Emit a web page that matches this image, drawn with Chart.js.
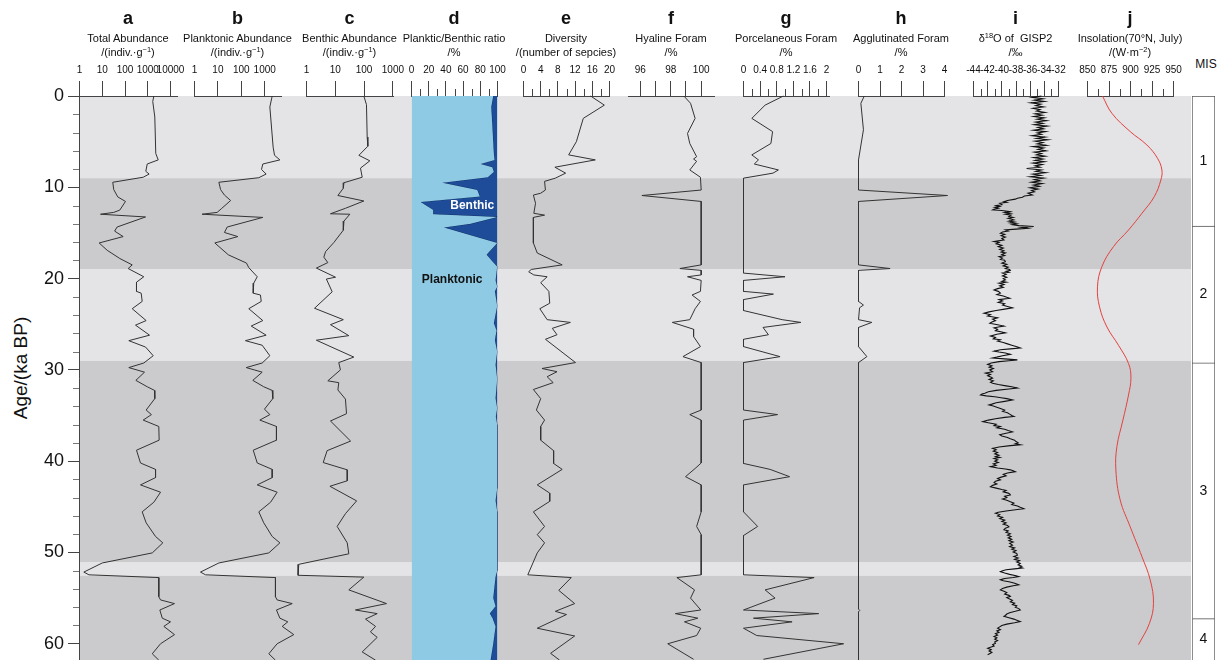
<!DOCTYPE html>
<html>
<head>
<meta charset="utf-8">
<title>Foraminifera record, 0–62 ka BP</title>
<script src="https://cdn.jsdelivr.net/npm/chart.js@4.4.1/dist/chart.umd.min.js"></script>
<style>
  html, body { margin: 0; padding: 0; background: #fff; }
  #wrap { position: relative; width: 1218px; height: 660px; overflow: hidden;
          font-family: "Liberation Sans", Arial, Helvetica, sans-serif; color: #111; }
  #wrap canvas { position: absolute; top: 0; }
  .hd { position: absolute; transform: translateX(-50%); white-space: nowrap; text-align: center; line-height: 1; }
  .letter { top: 9px; font-size: 18px; font-weight: bold; }
  .t1 { top: 33px; font-size: 11px; }
  .t2 { top: 47px; font-size: 11px; }
  .hd sup { font-size: 0.68em; line-height: 0; vertical-align: 0.55em; }
  #ageTitle { position: absolute; left: 21px; top: 368px; font-size: 19px; white-space: nowrap;
              transform: translate(-50%, -50%) rotate(-90deg); }
  #misTitle { position: absolute; left: 1206px; top: 57px; font-size: 12px; transform: translateX(-50%); }
</style>
</head>
<body>
<div id="wrap">
  <div id="ageTitle">Age/(ka BP)</div>
  <div id="misTitle">MIS</div>
</div>
<script>
// ---------------- data: [age (ka BP), value] ----------------
const ageTicks = [0, 10, 20, 30, 40, 50, 60];
const ageMinorTicks = [2,4,6,8,12,14,16,18,22,24,26,28,32,34,36,38,42,44,46,48,52,54,56,58];
const bandEdges = [0, 9.0, 18.95, 29.0, 51.1, 52.55, 62];
const misEdges = [0, 14.24, 29.24, 57.25, 62];
const misStages = ['1', '2', '3', '4'];

const totalAbundance = [[0,1850],[0.6,1660],[2.3,2040],[6.3,2250],[7.0,2880],[7.45,950],[8.25,820],[8.55,1150],[8.9,630],[9.45,29],[10.25,32],[11.05,48],[11.55,105],[12.5,59],[12.75,32],[12.95,8.4],[13.25,800],[14.35,45],[14.8,35],[15.4,83],[16.1,7.3],[16.9,16.5],[17.8,59],[18.5,207],[18.9,138],[19.8,670],[20.4,320],[21.4,320],[21.6,515],[22.5,570],[23.3,207],[24.6,850],[25.1,290],[26.2,1200],[26.8,147],[27.5,800],[28.45,1740],[29.25,670],[29.75,147],[30.25,720],[31.15,300],[31.85,950],[32.25,1990],[33.15,2040],[34.4,850],[34.9,1450],[35.5,630],[36.2,3060],[37.7,3170],[38.8,320],[40.2,480],[40.9,2200],[41.8,2200],[42.6,480],[43.4,3650],[44.5,1850],[45.55,570],[46.75,850],[48.25,2200],[48.95,4600],[50.05,1580],[51.15,10],[52.15,1.55],[52.45,2.6],[52.75,3060],[54.85,3060],[55.2,3650],[55.6,15000],[56.3,3400],[57.2,4350],[57.6,10000],[58.1,5100],[59.0,15000],[60.0,3650],[61.1,1580],[61.8,3060]];

const planktonicAbundance = [[0,2090],[1.2,1660],[5.6,2290],[6.5,2630],[7.0,4450],[7.45,830],[8.05,730],[8.55,1150],[8.95,560],[9.45,11],[10.25,13],[10.85,19],[11.45,35],[12.35,14],[12.75,9.3],[12.95,2.1],[13.3,830],[14.35,25],[14.95,19],[15.4,71],[16.1,7.4],[17.4,28],[18.3,166],[18.8,209],[19.8,480],[20.5,340],[21.6,323],[21.8,660],[22.5,710],[23.3,209],[24.6,830],[25.2,265],[26.2,1150],[26.8,150],[27.3,780],[28.45,1660],[29.25,780],[29.75,162],[30.25,780],[31.15,310],[31.85,910],[32.25,2090],[33.15,2220],[34.3,980],[34.9,1660],[35.5,620],[36.2,3180],[37.7,3180],[38.8,323],[40.2,480],[40.9,2090],[41.8,2090],[42.6,480],[43.4,3400],[44.5,1780],[45.55,560],[46.75,910],[48.25,2090],[48.95,4450],[50.05,1500],[51.15,11],[52.15,1.8],[52.45,2.95],[52.75,2880],[54.85,2880],[55.2,3400],[55.6,15000],[56.3,3180],[57.2,4450],[57.6,9700],[58.1,5600],[59.0,17500],[60.0,3400],[61.1,1500],[61.8,2880]];

const benthicAbundance = [[0,98],[0.95,121],[4.5,128],[5.5,135],[6.5,66],[7.1,158],[7.9,75],[8.9,86],[9.5,20],[10.1,19],[10.9,12.3],[11.5,98],[12.3,22.5],[12.9,6.8],[12.95,32],[13.7,20],[14.7,19],[16.05,8.9],[17.05,4.6],[17.65,4.0],[18.25,5.5],[18.85,2.2],[19.85,10.2],[20.05,4.9],[21.45,7.8],[23.25,1.9],[24.5,19],[25.05,6.8],[26.25,29.5],[26.75,2.2],[28.6,44],[29.2,13.2],[30.0,15.1],[31.2,5.5],[31.4,13.2],[32.2,12.3],[33.2,22.5],[34.8,24.5],[35.6,6.8],[37.8,34],[38.85,5.2],[40.15,3.8],[40.95,26],[42.15,26],[42.75,6.5],[44.35,55],[45.75,22.5],[47.15,11.6],[48.95,26],[50.15,29.5],[51.3,0.54],[52.5,0.51],[52.7,98],[54.1,29.5],[55.6,600],[56.3,50],[56.7,285],[57.3,112],[58.1,250],[58.7,166],[59.3,285],[60.9,86],[61.8,250]];

const plankticRatio = [[0,95.0],[1.2,92.7],[3.0,93.8],[6.3,95.7],[7.0,96.5],[7.45,80.2],[7.8,93.8],[8.3,95.7],[8.9,88.7],[9.5,35.7],[10.3,76.4],[11.0,79.4],[11.6,10.5],[12.5,25.2],[12.95,25.2],[13.25,99.6],[14.0,68.6],[14.4,37.6],[16.1,99.6],[17.4,87.2],[18.7,99.6],[20.2,97.7],[20.9,99.6],[21.4,96.9],[23.0,99.6],[24.9,95.7],[25.7,98.8],[26.75,96.9],[28.0,99.6],[29.45,97.7],[31.0,99.6],[33.1,97.7],[34.2,99.6],[35.1,98.0],[36.0,99.6],[43.0,99.6],[44.3,97.7],[45.5,99.6],[52.0,99.6],[52.65,97.7],[55.0,95.0],[55.9,97.7],[56.7,91.0],[57.2,94.2],[58.1,97.7],[60.0,95.0],[61.8,91.9]];

const diversity = [[0,15.6],[1.0,18.8],[2.45,13.9],[5.0,12.3],[6.45,10.5],[7.0,16.7],[7.8,7.3],[8.45,9.8],[9.0,7.4],[9.35,4.9],[10.3,5.1],[10.65,4.0],[10.85,2.3],[11.75,2.8],[12.85,2.4],[13.05,4.9],[13.3,2.3],[16.1,2.3],[17.2,3.2],[18.5,9.0],[19.0,1.8],[19.25,1.2],[19.6,2.4],[19.8,5.5],[20.45,4.0],[21.4,5.9],[22.7,6.1],[23.3,3.8],[24.5,5.5],[24.8,10.9],[25.45,6.7],[26.15,7.8],[26.65,5.1],[29.2,12.1],[29.85,4.3],[30.2,7.8],[30.75,5.5],[31.4,6.9],[32.15,2.3],[33.15,4.0],[34.4,3.0],[35.5,4.9],[36.2,4.0],[37.7,4.0],[38.85,7.0],[40.25,7.0],[40.9,9.0],[42.6,3.2],[43.5,6.1],[44.4,6.1],[45.55,2.3],[47.15,4.9],[48.05,3.2],[48.95,4.9],[50.05,3.2],[52.45,1.0],[52.75,11.1],[54.15,8.2],[55.6,11.9],[56.45,7.4],[56.8,10.0],[58.3,3.2],[59.15,11.9],[61.05,6.3],[61.8,8.4]];

const hyaline = [[0,98.86],[0.8,99.3],[2.45,99.6],[4.1,99.1],[5.2,99.25],[6.65,99.7],[6.9,99.5],[7.15,99.7],[8.1,99.25],[8.9,99.95],[10.3,100],[10.9,96.1],[11.55,100],[18.5,100],[18.9,98.6],[19.1,100],[19.6,100],[19.8,99.1],[20.2,100],[21.4,99.95],[21.8,99.4],[22.5,99.95],[23.3,99.6],[24.5,99.25],[24.8,98.1],[25.55,99.5],[26.35,99.5],[27.45,99.95],[28.55,98.8],[29.2,100],[34.4,100],[34.9,99.25],[35.5,100],[40.2,100],[40.8,99.6],[41.7,98.97],[42.6,100],[45.55,100],[47.15,99.7],[48.05,100],[52.45,100],[52.75,98.4],[54.1,99.56],[55.0,99.3],[56.3,99.97],[56.7,98.3],[57.2,99.78],[57.6,98.9],[58.3,99.97],[59.1,99.7],[60.0,97.8],[61.7,99.5]];

const porcelaneous = [[0,0.96],[1.0,0.52],[2.45,0.2],[3.9,0.7],[5.2,0.66],[6.45,0.2],[7.0,0.36],[7.45,0.26],[8.1,0.84],[8.45,0.71],[9.0,0],[19.4,0],[19.8,1.0],[20.2,0],[21.4,0],[21.7,0.72],[22.3,0],[23.5,0],[24.5,0.93],[24.8,1.38],[25.35,0.47],[26.15,0.6],[26.65,0],[27.45,0],[28.55,0.88],[29.2,0],[34.4,0],[34.9,0.82],[35.5,0],[40.25,0],[40.9,0.64],[41.7,1.11],[42.6,0],[45.55,0],[47.15,0.34],[48.15,0],[52.45,0],[52.75,1.7],[54.1,0.52],[55.0,0.76],[56.3,0],[56.7,1.81],[57.2,0.24],[57.6,1.17],[58.3,0],[59.1,0.32],[60.0,2.41],[61.7,0.48]];

const agglutinated = [[0,0.27],[0.8,0.11],[3.7,0.23],[7.0,0],[10.3,0],[10.9,4.14],[11.55,0],[18.5,0],[18.9,1.47],[19.1,0],[22.5,0],[22.9,0.23],[23.2,0.05],[24.5,0],[24.8,0.62],[25.35,0],[27.45,0],[28.55,0.39],[29.2,0],[56.2,0],[56.35,0.06],[56.5,0],[61.8,0]];

const gisp2 = [
[0,-34.4],[0.15,-35.7],[0.3,-34.2],[0.45,-35.4],[0.6,-34.0],[0.75,-35.9],[0.9,-34.5],[1.05,-35.2],[1.2,-34.1],[1.35,-35.6],
[1.5,-34.6],[1.65,-35.1],[1.8,-33.9],[1.95,-35.3],[2.1,-34.3],[2.25,-35.5],[2.4,-34.0],[2.55,-35.0],[2.7,-33.7],[2.85,-35.2],
[3.0,-34.2],[3.15,-35.4],[3.3,-33.6],[3.45,-34.9],[3.6,-34.1],[3.75,-35.5],[3.9,-33.8],[4.05,-35.0],[4.2,-34.4],[4.35,-35.7],
[4.5,-33.9],[4.65,-35.1],[4.8,-33.5],[4.95,-35.3],[5.1,-34.2],[5.25,-35.0],[5.4,-33.7],[5.55,-35.6],[5.7,-34.1],[5.85,-34.9],
[6.0,-33.8],[6.15,-35.4],[6.3,-34.4],[6.45,-35.1],[6.6,-33.9],[6.75,-35.5],[6.9,-34.2],[7.05,-35.3],[7.2,-34.0],[7.35,-35.6],
[7.5,-34.3],[7.65,-35.3],[7.8,-34.6],[7.95,-36.5],[8.1,-34.4],[8.25,-35.2],[8.4,-33.8],[8.55,-35.6],[8.7,-34.5],[8.85,-36.0],
[9.0,-34.1],[9.15,-35.4],[9.3,-34.6],[9.45,-35.8],[9.6,-34.3],[9.75,-35.5],[9.9,-34.7],[10.05,-36.0],[10.2,-34.9],[10.35,-35.8],
[10.5,-35.4],[10.65,-36.3],[10.84,-35.7],[10.95,-36.8],[11.1,-37.1],[11.2,-37.8],[11.3,-38.1],[11.45,-39.2],[11.57,-39.7],[11.65,-39.3],
[11.75,-40.3],[11.9,-40.0],[12.0,-40.8],[12.1,-40.3],[12.2,-41.0],[12.3,-40.5],[12.4,-41.1],[12.48,-41.3],[12.55,-40.0],[12.66,-38.9],
[12.75,-39.6],[12.85,-38.8],[12.95,-39.5],[13.05,-38.7],[13.2,-39.0],[13.3,-38.4],[13.4,-39.1],[13.5,-38.6],[13.58,-38.3],[13.7,-39.0],
[13.8,-38.2],[13.9,-38.8],[14.0,-37.9],[14.1,-38.5],[14.2,-37.6],[14.3,-35.5],[14.4,-37.2],[14.49,-36.4],[14.58,-38.0],[14.67,-39.5],
[14.8,-39.1],[14.9,-39.9],[15.04,-40.2],[15.15,-39.6],[15.3,-40.1],[15.45,-39.5],[15.6,-40.0],[15.77,-39.7],[15.87,-40.5],[15.95,-41.1],
[16.05,-40.4],[16.2,-40.8],[16.35,-40.0],[16.5,-40.5],[16.65,-39.8],[16.8,-40.3],[16.95,-39.7],[17.1,-40.1],[17.2,-39.5],[17.35,-40.0],
[17.47,-39.6],[17.6,-40.4],[17.75,-39.9],[17.9,-40.2],[18.0,-39.6],[18.15,-39.5],[18.3,-40.0],[18.45,-39.3],[18.6,-39.8],[18.75,-39.1],
[18.9,-39.5],[19.0,-38.9],[19.1,-38.8],[19.2,-39.4],[19.3,-39.0],[19.4,-39.9],[19.55,-39.4],[19.7,-39.9],[19.85,-39.3],[20.0,-39.8],
[20.15,-39.5],[20.3,-40.0],[20.4,-39.4],[20.5,-40.4],[20.65,-39.7],[20.8,-40.3],[20.95,-39.8],[21.1,-40.6],[21.25,-41.1],[21.4,-40.5],
[21.6,-40.2],[21.75,-40.7],[21.9,-39.8],[22.05,-39.3],[22.15,-38.9],[22.3,-40.4],[22.45,-39.9],[22.6,-40.5],[22.75,-39.6],[22.9,-39.9],
[23.05,-39.2],[23.2,-38.5],[23.35,-39.6],[23.5,-40.8],[23.65,-41.8],[23.8,-42.5],[23.95,-41.6],[24.1,-42.0],[24.2,-41.2],[24.3,-40.6],
[24.45,-41.3],[24.6,-40.9],[24.75,-41.4],[24.9,-41.7],[25.05,-40.6],[25.2,-39.7],[25.3,-40.5],[25.4,-41.1],[25.55,-40.6],[25.7,-40.9],
[25.85,-40.0],[25.95,-39.5],[26.1,-40.7],[26.3,-41.6],[26.45,-40.9],[26.6,-41.2],[26.7,-40.2],[26.85,-40.6],[27.0,-39.8],[27.15,-39.2],
[27.3,-38.6],[27.45,-38.0],[27.6,-37.4],[27.7,-38.8],[27.8,-40.2],[27.95,-41.1],[28.05,-40.4],[28.15,-39.5],[28.3,-38.8],[28.45,-39.9],
[28.6,-40.7],[28.7,-41.3],[28.8,-39.6],[28.9,-37.8],[29.0,-39.0],[29.1,-40.4],[29.25,-41.5],[29.4,-42.0],[29.55,-41.4],[29.7,-41.8],
[29.85,-41.2],[30.0,-41.7],[30.2,-41.3],[30.35,-42.3],[30.5,-41.6],[30.65,-42.0],[30.8,-41.5],[30.9,-41.3],[31.05,-41.8],[31.2,-41.2],
[31.35,-41.6],[31.47,-41.3],[31.6,-40.5],[31.75,-39.4],[31.85,-38.6],[32.0,-37.8],[32.1,-39.0],[32.25,-40.8],[32.4,-41.9],[32.55,-42.4],
[32.65,-42.8],[32.75,-43.0],[32.85,-42.2],[32.95,-41.0],[33.05,-40.1],[33.15,-39.3],[33.3,-38.5],[33.45,-39.6],[33.6,-40.8],[33.75,-41.4],
[33.84,-41.8],[33.95,-41.2],[34.1,-40.7],[34.25,-40.1],[34.4,-39.6],[34.55,-39.9],[34.7,-39.2],[34.85,-38.9],[35.0,-38.6],[35.1,-38.3],
[35.2,-39.6],[35.35,-40.9],[35.5,-41.9],[35.6,-42.4],[35.67,-42.7],[35.8,-41.9],[35.95,-40.8],[36.1,-41.1],[36.2,-40.2],[36.35,-40.7],
[36.5,-39.6],[36.65,-39.1],[36.8,-38.5],[36.95,-39.4],[37.1,-40.3],[37.25,-40.0],[37.4,-39.2],[37.55,-38.8],[37.7,-38.2],[37.85,-38.0],
[38.0,-37.7],[38.1,-38.1],[38.2,-37.4],[38.3,-38.8],[38.45,-40.4],[38.6,-41.3],[38.75,-40.8],[38.9,-41.2],[39.05,-40.6],[39.2,-41.0],
[39.35,-40.4],[39.5,-40.9],[39.6,-40.3],[39.7,-41.1],[39.85,-40.6],[40.0,-41.0],[40.15,-40.5],[40.3,-41.2],[40.45,-40.8],[40.6,-41.6],
[40.75,-40.6],[40.85,-39.5],[40.95,-38.8],[41.05,-38.4],[41.15,-38.1],[41.3,-39.2],[41.45,-39.8],[41.6,-39.4],[41.75,-40.1],[41.9,-40.6],
[42.05,-40.2],[42.2,-40.9],[42.35,-41.1],[42.5,-40.7],[42.65,-41.3],[42.8,-41.6],[42.95,-40.8],[43.1,-40.0],[43.2,-39.4],[43.35,-39.8],
[43.5,-39.1],[43.6,-38.9],[43.7,-38.8],[43.85,-39.6],[44.0,-39.3],[44.15,-39.9],[44.3,-39.2],[44.45,-38.8],[44.6,-38.3],[44.75,-38.6],
[44.9,-37.8],[45.05,-37.4],[45.2,-36.9],[45.3,-37.8],[45.45,-39.4],[45.6,-40.5],[45.7,-40.9],[45.85,-40.3],[46.0,-40.6],[46.15,-39.9],
[46.3,-40.3],[46.45,-39.6],[46.6,-40.0],[46.75,-39.4],[46.9,-39.8],[47.05,-39.2],[47.2,-39.0],[47.35,-39.5],[47.5,-39.7],[47.65,-39.1],
[47.8,-39.4],[47.95,-38.8],[48.1,-39.2],[48.25,-38.7],[48.4,-39.1],[48.55,-38.6],[48.7,-39.0],[48.85,-38.4],[49.0,-38.9],[49.2,-38.5],
[49.35,-38.9],[49.5,-38.2],[49.65,-38.6],[49.8,-38.0],[49.95,-38.4],[50.1,-37.9],[50.3,-37.8],[50.45,-38.3],[50.6,-37.7],[50.75,-38.2],
[50.9,-37.5],[51.05,-37.9],[51.2,-37.4],[51.35,-37.7],[51.5,-37.2],[51.6,-37.5],[51.7,-37.1],[51.8,-38.2],[51.9,-39.4],[52.0,-39.9],
[52.1,-40.2],[52.25,-39.6],[52.4,-38.9],[52.55,-38.0],[52.65,-37.6],[52.75,-38.4],[52.85,-39.6],[52.95,-40.0],[53.0,-40.2],[53.1,-39.8],
[53.2,-39.0],[53.35,-38.3],[53.45,-37.9],[53.55,-37.6],[53.65,-38.4],[53.8,-39.3],[53.95,-39.9],[54.1,-40.2],[54.25,-39.7],[54.4,-39.3],
[54.55,-39.6],[54.7,-39.0],[54.8,-38.8],[54.95,-39.3],[55.1,-38.9],[55.25,-38.5],[55.4,-38.8],[55.55,-38.2],[55.7,-38.5],[55.85,-37.9],
[56.0,-38.1],[56.15,-37.6],[56.3,-37.4],[56.45,-38.1],[56.6,-38.9],[56.75,-39.3],[56.9,-39.5],[57.0,-39.7],[57.15,-39.0],[57.3,-38.3],
[57.45,-37.8],[57.57,-37.4],[57.7,-38.2],[57.85,-39.3],[58.0,-40.0],[58.15,-40.3],[58.3,-40.6],[58.45,-40.2],[58.6,-40.7],[58.75,-40.4],
[58.9,-40.9],[59.05,-40.6],[59.2,-41.1],[59.35,-40.7],[59.5,-41.0],[59.65,-40.6],[59.8,-41.0],[59.94,-40.9],[60.1,-41.3],[60.25,-41.1],
[60.4,-41.7],[60.5,-42.0],[60.65,-41.5],[60.8,-41.8],[60.95,-41.4],[61.05,-41.6],[61.2,-42.0]];

const insolation = [[0,867.4],[1.9,878.4],[3.9,899.7],[5.37,919.1],[6.82,931.4],[8.1,936.5],[9.2,935.3],[11.03,927.6],[12.85,913.3],[14.68,897.7],[16.5,880.2],[18.7,866.7],[20.9,861.6],[23.1,864.0],[25.3,872.6],[27.3,886.0],[29.3,897.7],[30.9,900.5],[32.75,897.7],[35.5,891.2],[38.4,884.2],[40.97,883.0],[44.25,888.0],[47.2,899.7],[50.46,913.3],[53.0,922.9],[55.56,926.7],[57.75,922.1],[60.1,909.3]];

// tick labels of the top axes
const ticksA = [1, 10, 100, 1000, 10000];
const ticksB = [1, 10, 100, 1000];
const ticksC = [1, 10, 100, 1000];
const ticksD = [0, 20, 40, 60, 80, 100];
const ticksE = [0, 4, 8, 12, 16, 20];
const ticksF = [96, 97, 98, 99, 100];
const ticksG = [0, 0.4, 0.8, 1.2, 1.6, 2];
const ticksH = [0, 1, 2, 3, 4];
const ticksI = [-44, -42, -40, -38, -36, -34, -32];
const ticksJ = [850, 875, 900, 925, 950];
const minorD = [10, 30, 50, 70, 90];
const minorE = [2, 6, 10, 14, 18];
const minorG = [0.2, 0.6, 1.0, 1.4, 1.8];
const minorI = [-43, -41, -39, -37, -35, -33];
const minorJ = [862.5, 887.5, 912.5, 937.5];

const panelLetters = ['a','b','c','d','e','f','g','h','i','j'];
const panelTitles = ['Total Abundance', 'Planktonic Abundance', 'Benthic Abundance', 'Planktic/Benthic ratio',
  'Diversity', 'Hyaline Foram', 'Porcelaneous Foram', 'Agglutinated Foram', 'δ<sup>18</sup>O of&nbsp; GISP2',
  'Insolation(70°N, July)'];
const panelUnits = ['/(indiv.·g<sup>−1</sup>)', '/(indiv.·g<sup>−1</sup>)', '/(indiv.·g<sup>−1</sup>)', '/%',
  '/(number of sepcies)', '/%', '/%', '/%', '/‰', '/(W·m<sup>−2</sup>)'];
const ratioLabels = [{text: 'Benthic', x: 70.6, age: 12.0}, {text: 'Planktonic', x: 47.3, age: 20.1}];

// ---------------- layout and style ----------------
const W = 1218, H = 660, TOP = 96, AXIS_H = 40, PAD = 30;
const AGE_MAX = 61.78;
const FONT = '"Liberation Sans", Arial, Helvetica, sans-serif';
const AXIS = '#444', TXT = '#111', LINE = '#333';
const BAND_COLORS = ['#e4e3e6', '#cbcbcd'];
const PLOT_RIGHT = 1191;

const wrap = document.getElementById('wrap');
const xy = pairs => pairs.map(([age, v]) => ({x: v, y: age}));

Chart.defaults.font.family = FONT;

// short ticks between the labelled ones on a top axis
const minorTicks = {
  id: 'minorTicks',
  afterDraw(chart, args, opts) {
    const vals = opts.values || [];
    if (!vals.length) return;
    const s = chart.scales.x, ctx = chart.ctx;
    ctx.save();
    ctx.strokeStyle = opts.color; ctx.lineWidth = 1;
    ctx.beginPath();
    for (const v of vals) {
      const x = Math.round(s.getPixelForValue(v)) + 0.5;
      ctx.moveTo(x, s.bottom); ctx.lineTo(x, s.bottom - opts.length);
    }
    ctx.stroke();
    ctx.restore();
  }
};

// alternating grey bands behind all columns, and minor age ticks
const ageBands = {
  id: 'ageBands',
  beforeDraw(chart) {
    const {ctx, chartArea: a, scales: {y}} = chart;
    ctx.save();
    for (let i = 0; i < bandEdges.length - 1; i++) {
      const y0 = y.getPixelForValue(bandEdges[i]);
      const y1 = Math.min(y.getPixelForValue(bandEdges[i + 1]), a.bottom);
      ctx.fillStyle = BAND_COLORS[i % 2];
      ctx.fillRect(a.left, y0, a.right - a.left, y1 - y0);
    }
    ctx.restore();
  },
  afterDraw(chart) {
    const {ctx, chartArea: a, scales: {y}} = chart;
    ctx.save();
    ctx.strokeStyle = '#777'; ctx.lineWidth = 1;
    ctx.beginPath();
    for (const v of ageMinorTicks) {
      const py = Math.round(y.getPixelForValue(v)) + 0.5;
      ctx.moveTo(a.left - 6, py); ctx.lineTo(a.left, py);
    }
    ctx.stroke();
    ctx.restore();
  }
};

// labels inside the planktic/benthic column
const ratioText = {
  id: 'ratioText',
  afterDatasetsDraw(chart) {
    const {ctx, scales: {x, y}} = chart;
    const colors = ['#ffffff', '#111111'];
    ctx.save();
    ctx.font = 'bold 12px ' + FONT;
    ctx.textAlign = 'center'; ctx.textBaseline = 'middle';
    ratioLabels.forEach((t, i) => {
      ctx.fillStyle = colors[i];
      ctx.fillText(t.text, x.getPixelForValue(t.x), y.getPixelForValue(t.age));
    });
    ctx.restore();
  }
};

// stage numbers in the MIS column
const misText = {
  id: 'misText',
  afterDatasetsDraw(chart) {
    const {ctx, chartArea: a} = chart;
    const meta = chart.getDatasetMeta(0);
    ctx.save();
    ctx.font = '14px ' + FONT; ctx.fillStyle = TXT;
    ctx.textAlign = 'center'; ctx.textBaseline = 'middle';
    meta.data.forEach((bar, i) => {
      const p = bar.getProps(['x', 'y', 'base'], true);
      const top = Math.max(Math.min(p.y, p.base), a.top);
      const bot = Math.min(Math.max(p.y, p.base), a.bottom);
      ctx.fillText(misStages[i], p.x, (top + bot) / 2);
    });
    ctx.restore();
  }
};

function addCanvas(left, width) {
  const cv = document.createElement('canvas');
  cv.width = width; cv.height = H;
  cv.style.left = left + 'px';
  cv.style.width = width + 'px'; cv.style.height = H + 'px';
  wrap.appendChild(cv);
  return cv;
}

const common = {
  responsive: false, animation: false, events: [], devicePixelRatio: 1,
  plugins: {legend: {display: false}, tooltip: {enabled: false}}
};

// ---------------- age axis and bands ----------------
new Chart(addCanvas(0, W), {
  type: 'line',
  data: {datasets: []},
  options: {
    ...common,
    layout: {padding: {left: 0, right: W - PLOT_RIGHT, top: TOP, bottom: 0}},
    scales: {
      x: {type: 'linear', display: false, min: 0, max: 1},
      y: {
        type: 'linear', position: 'left', min: 0, max: AGE_MAX, reverse: true, bounds: 'data',
        afterBuildTicks: s => { s.ticks = ageTicks.map(v => ({value: v})); },
        afterFit: s => { s.width = 79; s.paddingTop = 0; s.paddingBottom = 0; },
        grid: {drawOnChartArea: false, tickLength: 11, color: AXIS},
        border: {color: AXIS, width: 1},
        ticks: {padding: 4, color: TXT, font: {size: 18}, autoSkip: false}
      }
    }
  },
  plugins: [ageBands]
});

// ---------------- the ten data columns ----------------
const lineSet = (pairs, color, width, tension) => ({
  data: xy(pairs), borderColor: color, borderWidth: width, pointRadius: 0,
  tension: tension || 0, fill: false, clip: false
});

const panels = [
  {left: 79, right: 177, type: 'logarithmic', min: 1, max: 20300, ticks: ticksA, minor: [], datasets: [lineSet(totalAbundance, LINE, 1)]},
  {left: 194, right: 281, type: 'logarithmic', min: 1, max: 5220, ticks: ticksB, minor: [], datasets: [lineSet(planktonicAbundance, LINE, 1)]},
  {left: 306, right: 393, type: 'logarithmic', min: 1, max: 1050, ticks: ticksC, minor: [], datasets: [lineSet(benthicAbundance, LINE, 1)]},
  {left: 411, right: 497, type: 'linear', min: 0, max: 100, ticks: ticksD, minor: minorD, extra: [ratioText],
   datasets: [
     {data: xy(plankticRatio), fill: {value: 0}, backgroundColor: '#8ecae3', borderWidth: 0, pointRadius: 0},
     {data: xy(plankticRatio), fill: {value: 100}, backgroundColor: '#1e4c98', borderColor: '#12336b', borderWidth: 1, pointRadius: 0}
   ]},
  {left: 523, right: 609, type: 'linear', min: 0, max: 20, ticks: ticksE, minor: minorE, datasets: [lineSet(diversity, LINE, 1)]},
  {left: 628, right: 714, type: 'linear', min: 95.22, max: 100.875, ticks: ticksF, minor: [],
   label: v => (v % 2 === 0 ? String(v) : ''), datasets: [lineSet(hyaline, LINE, 1)]},
  {left: 743, right: 829, type: 'linear', min: 0, max: 2.07, ticks: ticksG, minor: minorG, datasets: [lineSet(porcelaneous, LINE, 1)]},
  {left: 858, right: 944, type: 'linear', min: 0, max: 4, ticks: ticksH, minor: [], datasets: [lineSet(agglutinated, LINE, 1)]},
  {left: 973, right: 1058, type: 'linear', min: -44, max: -32, ticks: ticksI, minor: minorI, datasets: [lineSet(gisp2, '#111', 1.1)]},
  {left: 1087, right: 1173, type: 'linear', min: 850, max: 950, ticks: ticksJ, minor: minorJ, datasets: [lineSet(insolation, '#e2413f', 1, 0.4)]}
];

panels.forEach((p, k) => {
  const cv = addCanvas(p.left - PAD, p.right - p.left + 2 * PAD);
  new Chart(cv, {
    type: 'line',
    data: {datasets: p.datasets},
    options: {
      ...common,
      indexAxis: 'y',
      // half-pixel offset keeps vertical runs of the curves crisp
      layout: {padding: {left: PAD + 0.5, right: PAD - 0.5, top: TOP - AXIS_H, bottom: 0}},
      scales: {
        x: {
          type: p.type, position: 'top', min: p.min, max: p.max, bounds: 'data',
          afterBuildTicks: s => { s.ticks = p.ticks.map(v => ({value: v})); },
          afterFit: s => { s.height = AXIS_H; s.paddingLeft = 0; s.paddingRight = 0; },
          grid: {drawOnChartArea: false, drawTicks: true, tickLength: 15, color: AXIS, lineWidth: 1},
          border: {display: true, color: AXIS, width: 1},
          ticks: {autoSkip: false, maxRotation: 0, padding: 5, color: TXT, font: {size: 10},
                  callback: v => (p.label ? p.label(v) : String(v))}
        },
        y: {type: 'linear', display: false, min: 0, max: AGE_MAX, reverse: true}
      },
      plugins: {...common.plugins, minorTicks: {values: p.minor, length: 7, color: AXIS}}
    },
    plugins: [minorTicks, ...(p.extra || [])]
  });

  const cx = (p.left + p.right) / 2;
  [['letter', panelLetters[k]], ['t1', panelTitles[k]], ['t2', panelUnits[k]]].forEach(([cls, html]) => {
    const d = document.createElement('div');
    d.className = 'hd ' + cls;
    d.style.left = cx + 'px';
    d.innerHTML = html;
    wrap.appendChild(d);
  });
});

// ---------------- marine isotope stages ----------------
new Chart(addCanvas(1162, 56), {
  type: 'bar',
  data: {
    labels: ['MIS'],
    datasets: [{
      data: misStages.map((s, i) => ({x: 'MIS', y: [misEdges[i], misEdges[i + 1]]})),
      backgroundColor: '#ffffff', borderColor: '#555',
      borderWidth: {left: 1, right: 1, top: 1, bottom: 0}, borderSkipped: false,
      barPercentage: 1, categoryPercentage: 1
    }]
  },
  options: {
    ...common,
    layout: {padding: {left: 30, right: 3, top: TOP, bottom: 0}},
    scales: {
      x: {type: 'category', display: false},
      y: {type: 'linear', display: false, min: 0, max: AGE_MAX, reverse: true}
    }
  },
  plugins: [misText]
});
</script>
</body>
</html>
